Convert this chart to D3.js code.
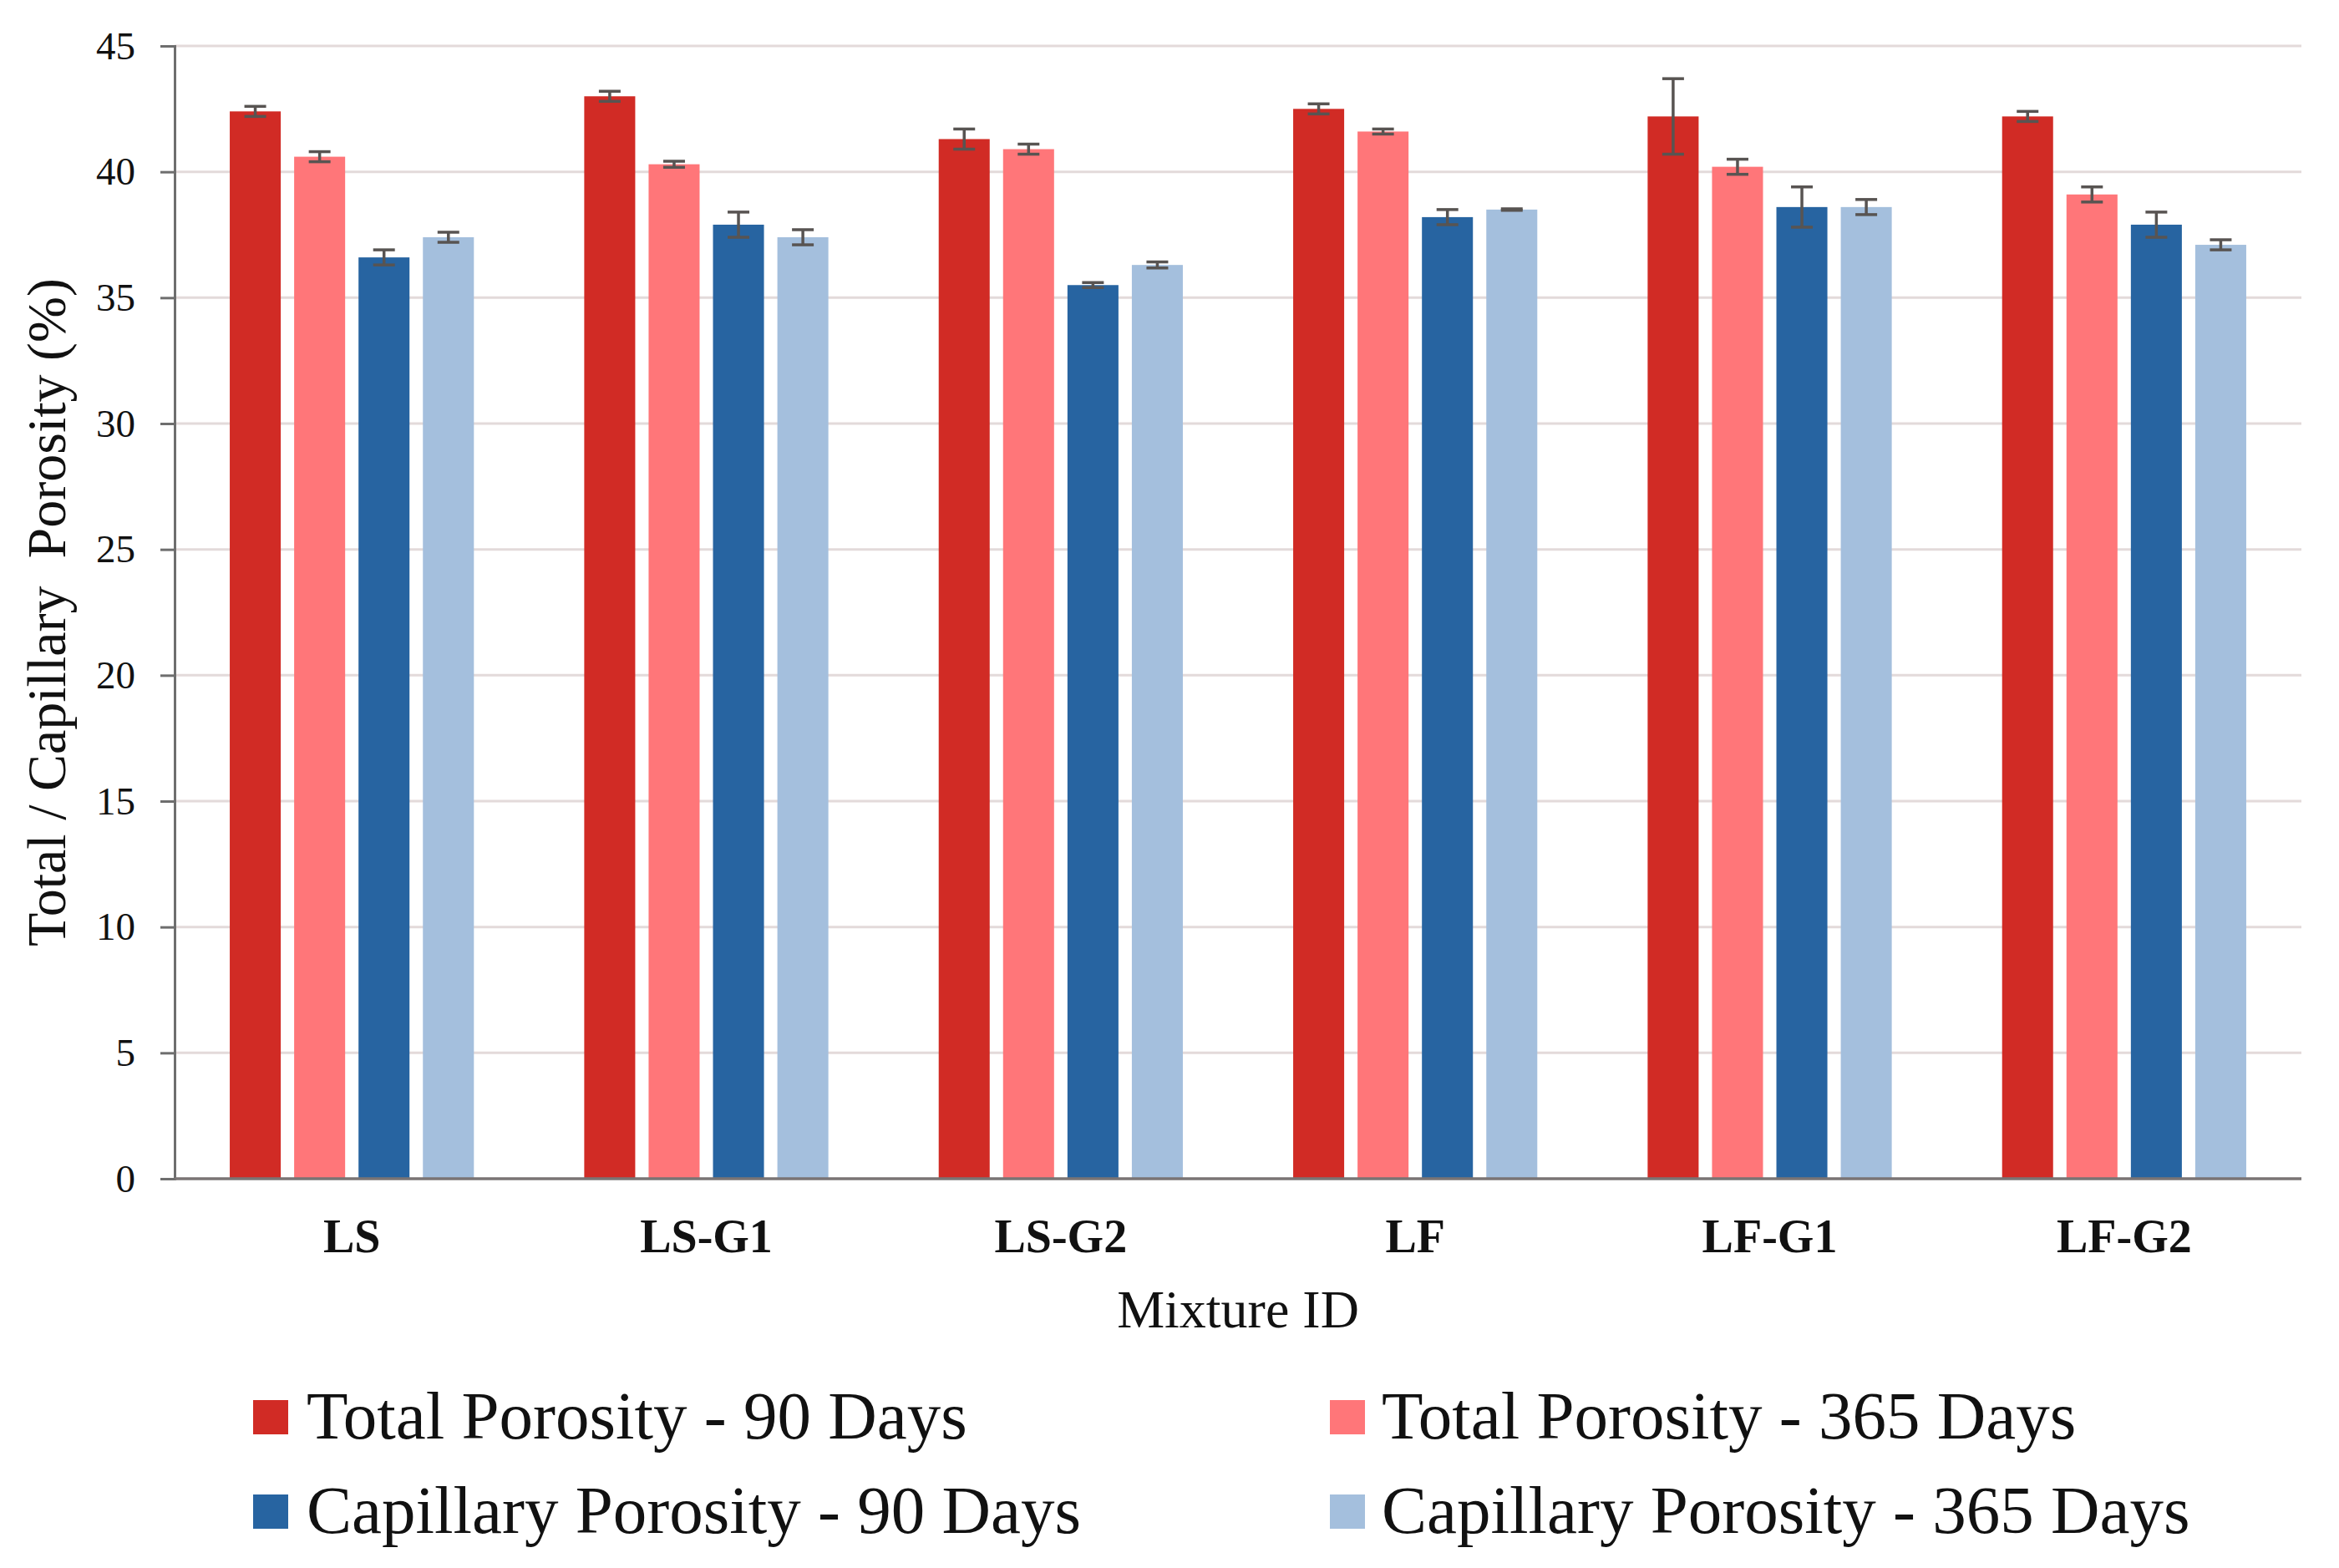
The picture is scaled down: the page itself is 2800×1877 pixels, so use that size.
<!DOCTYPE html>
<html>
<head>
<meta charset="utf-8">
<script src="https://cdn.jsdelivr.net/npm/d3@7"></script>
<style>
  body { margin: 0; background: #fff; }
  svg text { font-family: "Liberation Serif", "Times New Roman", serif; fill: #111; }
</style>
</head>
<body>
<svg id="chart" width="2800" height="1877"></svg>
<script>
// values
const mixtures = ["LS", "LS-G1", "LS-G2", "LF", "LF-G1", "LF-G2"];
const seriesNames = [
  "Total Porosity - 90 Days",
  "Total Porosity - 365 Days",
  "Capillary Porosity - 90 Days",
  "Capillary Porosity - 365 Days"
];
const total90 = [42.4, 43.0, 41.3, 42.5, 42.2, 42.2];
const total365 = [40.6, 40.3, 40.9, 41.6, 40.2, 39.1];
const cap90 = [36.6, 37.9, 35.5, 38.2, 38.6, 37.9];
const cap365 = [37.4, 37.4, 36.3, 38.5, 38.6, 37.1];
const total90Err = [0.2, 0.2, 0.4, 0.2, 1.5, 0.2];
const total365Err = [0.2, 0.12, 0.2, 0.1, 0.3, 0.3];
const cap90Err = [0.3, 0.5, 0.1, 0.3, 0.8, 0.5];
const cap365Err = [0.2, 0.3, 0.12, 0.03, 0.3, 0.2];
const yTicks = [0, 5, 10, 15, 20, 25, 30, 35, 40, 45];

const colors = ["#D12B25", "#FF7679", "#2764A1", "#A4BFDD"];
const values = [total90, total365, cap90, cap365];
const errors = [total90Err, total365Err, cap90Err, cap365Err];

const svg = d3.select("#chart");
const plotLeft = 209, plotRight = 2755, plotTop = 55, plotBottom = 1411;

const x0 = d3.scaleBand().domain(mixtures).range([plotLeft, plotRight]);
const x1 = d3.scaleBand().domain(d3.range(4)).range([0, x0.bandwidth()])
  .paddingInner(0.208).paddingOuter(0.857);
const y = d3.scaleLinear().domain([0, 45]).range([plotBottom, plotTop]);

// gridlines
svg.append("g").selectAll("line").data(yTicks.filter(d => d > 0)).enter()
  .append("line")
  .attr("x1", plotLeft).attr("x2", plotRight)
  .attr("y1", d => y(d)).attr("y2", d => y(d))
  .attr("stroke", "#E3DADA").attr("stroke-width", 3);

// bars
const rows = [];
mixtures.forEach((m, i) => {
  values.forEach((v, s) => rows.push({ m, s, v: v[i], e: errors[s][i] }));
});

svg.append("g").selectAll("rect").data(rows).enter()
  .append("rect")
  .attr("x", d => x0(d.m) + x1(d.s))
  .attr("width", x1.bandwidth())
  .attr("y", d => y(d.v))
  .attr("height", d => y(0) - y(d.v))
  .attr("fill", d => colors[d.s]);

// error bars
const eg = svg.append("g").attr("stroke", "#585452").attr("stroke-width", 3.5);
const cx = d => x0(d.m) + x1(d.s) + x1.bandwidth() / 2;
eg.selectAll(".ev").data(rows).enter().append("line")
  .attr("x1", cx).attr("x2", cx)
  .attr("y1", d => y(d.v + d.e)).attr("y2", d => y(d.v - d.e));
eg.selectAll(".et").data(rows).enter().append("line")
  .attr("x1", d => cx(d) - 13).attr("x2", d => cx(d) + 13)
  .attr("y1", d => y(d.v + d.e)).attr("y2", d => y(d.v + d.e));
eg.selectAll(".eb").data(rows).enter().append("line")
  .attr("x1", d => cx(d) - 13).attr("x2", d => cx(d) + 13)
  .attr("y1", d => y(d.v - d.e)).attr("y2", d => y(d.v - d.e));

// y axis
const yAxis = svg.append("g").attr("transform", `translate(${plotLeft},0)`)
  .call(d3.axisLeft(y).tickValues(yTicks).tickSize(17).tickPadding(30));
yAxis.select(".domain").attr("stroke", "#6E6E6E").attr("stroke-width", 3);
yAxis.selectAll(".tick line").attr("stroke", "#6E6E6E").attr("stroke-width", 3);
yAxis.selectAll(".tick text")
  .style("font-family", "'Liberation Serif', serif")
  .style("font-size", "47px").attr("fill", "#111");

// x axis baseline
svg.append("line")
  .attr("x1", plotLeft).attr("x2", plotRight)
  .attr("y1", plotBottom).attr("y2", plotBottom)
  .attr("stroke", "#7A7474").attr("stroke-width", 3.5);

// category labels
svg.append("g").selectAll("text").data(mixtures).enter()
  .append("text")
  .attr("x", d => x0(d) + x0.bandwidth() / 2)
  .attr("y", 1499)
  .attr("text-anchor", "middle")
  .style("font-size", "56px").style("font-weight", "bold")
  .text(d => d);

// axis titles
svg.append("text")
  .attr("x", (plotLeft + plotRight) / 2).attr("y", 1589)
  .attr("text-anchor", "middle")
  .style("font-size", "64px")
  .text("Mixture ID");

svg.append("text")
  .attr("transform", `translate(78,${(plotTop + plotBottom) / 2}) rotate(-90)`)
  .attr("text-anchor", "middle")
  .style("font-size", "66px")
  .style("white-space", "pre")
  .text("Total / Capillary\u00A0 Porosity (%)");

// legend
const legendPos = [
  { sx: 303, tx: 367, sy: 1676, ty: 1722 },
  { sx: 1592, tx: 1654, sy: 1676, ty: 1722 },
  { sx: 303, tx: 367, sy: 1789, ty: 1835 },
  { sx: 1592, tx: 1654, sy: 1789, ty: 1835 }
];
const lg = svg.append("g");
lg.selectAll("rect").data(seriesNames).enter().append("rect")
  .attr("x", (d, i) => legendPos[i].sx).attr("y", (d, i) => legendPos[i].sy)
  .attr("width", 42).attr("height", 41)
  .attr("fill", (d, i) => colors[i]);
lg.selectAll("text").data(seriesNames).enter().append("text")
  .attr("x", (d, i) => legendPos[i].tx).attr("y", (d, i) => legendPos[i].ty)
  .style("font-size", "81px")
  .text(d => d);
</script>
</body>
</html>
